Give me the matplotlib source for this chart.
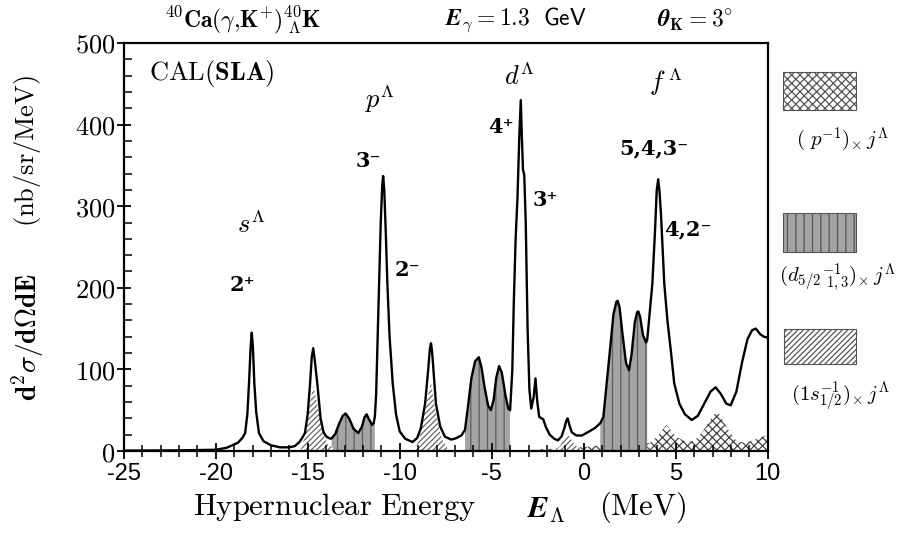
import numpy as np
import matplotlib
matplotlib.use('Agg')
import matplotlib.pyplot as plt
from matplotlib.patches import Rectangle
from matplotlib.ticker import MultipleLocator, FuncFormatter

plt.rcParams['mathtext.fontset'] = 'cm'
plt.rcParams['axes.unicode_minus'] = False
plt.rcParams['hatch.linewidth'] = 0.9

# total spectrum (E_Lambda in MeV, nb/sr/MeV)
energy = [-25.0, -22.0, -20.0, -19.4, -18.8, -18.55, -18.4, -18.28, -18.19, -18.1,
          -18.04, -17.98, -17.9, -17.8, -17.65, -17.4, -17.0, -16.5, -16.0, -15.7,
          -15.45, -15.3, -15.15, -15.0, -14.87, -14.78, -14.7, -14.62, -14.48, -14.3,
          -14.15, -14.06, -13.95, -13.75, -13.7, -13.5, -13.3, -13.1, -12.94, -12.75,
          -12.5, -12.25, -12.05, -11.92, -11.8, -11.65, -11.5, -11.42, -11.35, -11.28,
          -11.2, -11.12, -11.03, -10.95, -10.9, -10.84, -10.76, -10.67, -10.55, -10.38,
          -10.2, -10.0, -9.7, -9.3, -9.05, -8.85, -8.62, -8.45, -8.36, -8.3,
          -8.24, -8.15, -8.03, -7.8, -7.54, -7.2, -6.95, -6.83, -6.65, -6.45,
          -6.27, -6.1, -5.9, -5.7, -5.55, -5.4, -5.2, -5.05, -4.9, -4.75,
          -4.6, -4.45, -4.25, -4.1, -4.0, -3.88, -3.8, -3.7, -3.6, -3.5,
          -3.42, -3.36, -3.3, -3.23, -3.15, -3.05, -2.95, -2.85, -2.72, -2.62,
          -2.53, -2.42, -2.3, -2.2, -2.05, -1.85, -1.6, -1.4, -1.2, -1.05,
          -0.95, -0.87, -0.78, -0.65, -0.4, -0.1, 0.3, 0.6, 0.9, 1.07,
          1.25, 1.43, 1.62, 1.78, 1.85, 1.95, 2.1, 2.3, 2.46, 2.6,
          2.78, 2.9, 2.97, 3.07, 3.22, 3.39, 3.45, 3.55, 3.73, 3.87,
          3.97, 4.05, 4.12, 4.2, 4.38, 4.55, 4.73, 4.92, 5.2, 5.5,
          5.87, 6.2, 6.6, 6.9, 7.17, 7.45, 7.75, 7.99, 8.3, 8.6,
          8.9, 9.15, 9.35, 9.6, 9.8, 10.0]
sigma = [0.5, 0.8, 1.5, 4, 10, 16, 22, 45, 83, 128,
         145, 128, 83, 48, 22, 12, 7, 4.5, 4.5, 6,
         11, 16, 22, 45, 83, 115, 126, 112, 83, 40,
         24, 20, 17, 15, 15.5, 21, 33, 43, 46, 40,
         27, 22, 30, 41, 45, 38, 32, 34, 42, 70,
         140, 205, 280, 325, 337, 320, 270, 205, 140, 83,
         45, 24, 15, 11, 16, 28, 58, 100, 125, 132,
         122, 95, 58, 30, 17.5, 14, 15.5, 17, 19, 26,
         58, 90, 110, 115, 102, 80, 56, 50, 62, 90,
         104, 96, 68, 52, 50, 99, 181, 260, 310, 385,
         430, 385, 345, 338, 280, 150, 75, 52, 66, 89,
         62, 42, 40, 39, 29, 20, 15, 13, 18, 28,
         37, 40, 32, 23, 19, 19, 24, 28, 34, 42,
         83, 124, 168, 183, 184, 176, 145, 108, 99, 118,
         158, 170, 171, 164, 142, 133, 136, 160, 205, 267,
         320, 333, 318, 290, 205, 160, 124, 83, 58, 45,
         38, 43, 60, 73, 78, 70, 58, 56, 73, 108,
         137, 148, 150, 143, 140, 139]

# (1s1/2^-1) x j strength (diagonal hatch)
s_hole_e = [-15.4, -15.15, -14.9, -14.7, -14.5, -14.3, -14.1, -13.9, -13.6, -13.3,
            -9.2, -8.95, -8.7, -8.5, -8.3, -8.1, -7.9, -7.7, -7.45, -7.3,
            -1.6, -1.3, -1.1, -0.9, -0.7, -0.5, -0.2, 0.2]
s_hole_y = [0, 18, 55, 80, 60, 35, 18, 8, 3, 0,
            0, 15, 40, 65, 85, 55, 30, 15, 5, 0,
            0, 6, 14, 22, 15, 8, 3, 0]

# (p^-1) x j strength (cross hatch)
p_hole_e = [-3.5, -2.5, -1.5, 0.0, 1.0, 2.0, 3.0, 3.6, 4.0, 4.5,
            5.0, 5.5, 6.0, 6.5, 7.25, 7.8, 8.3, 8.8, 9.3, 10.0]
p_hole_y = [0, 2, 3, 5, 7, 8, 8, 10, 18, 32,
            18, 12, 12, 25, 50, 28, 12, 10, 14, 20]

# energy windows of the (d5/2^-1) x j strength (vertical stripes)
d_windows = [(-13.7, -11.35), (-6.45, -4.0), (0.9, 3.45)]

# spin-parity labels: text, x, y
jp_labels = [('2⁺', -18.55, 203), ('3⁻', -11.7, 355), ('2⁻', -9.6, 222),
             ('4⁺', -4.5, 397), ('3⁺', -2.1, 307), ('5,4,3⁻', 3.82, 371),
             ('4,2⁻', 5.67, 271)]

W, H = 903, 535
fig = plt.figure(figsize=(W / 100, H / 100), dpi=100)
ax = fig.add_axes([123.7 / W, 1 - 451 / H, (767.7 - 123.7) / W, (451 - 43) / H])

e = np.array(energy)
s = np.array(sigma)

stripe = dict(facecolor='#a4a4a4', edgecolor='#5e5e5e', hatch='||', linewidth=0)
diag = dict(facecolor='white', edgecolor='#666666', hatch='//////', linewidth=0)
cross = dict(facecolor='white', edgecolor='#444444', hatch='xxxx', linewidth=0)

ax.fill_between(p_hole_e, 0, p_hole_y, **cross)
for lo, hi in d_windows:
    ax.fill_between(e, 0, s, where=(e >= lo) & (e <= hi), **stripe)
ax.fill_between(s_hole_e, 0, s_hole_y, **diag)
ax.plot(e, s, color='black', lw=1.7)

ax.set_xlim(-25, 10)
ax.set_ylim(0, 500)
ax.xaxis.set_major_locator(MultipleLocator(5))
ax.xaxis.set_minor_locator(MultipleLocator(1))
ax.yaxis.set_major_locator(MultipleLocator(100))
ax.yaxis.set_minor_locator(MultipleLocator(20))
ax.yaxis.set_major_formatter(FuncFormatter(lambda v, p: r'$\mathrm{%d}$' % v))
for sp in ax.spines.values():
    sp.set_linewidth(1.6)
ax.tick_params(axis='x', which='major', direction='inout', length=12, width=1.3, pad=3)
ax.tick_params(axis='x', which='minor', direction='inout', length=8, width=1.1)
ax.tick_params(axis='y', which='major', direction='inout', length=10, width=1.3, pad=1,
               labelsize=19)
ax.tick_params(axis='y', which='minor', direction='in', length=6, width=1.1)
for lab in ax.get_xticklabels():
    lab.set_family('Liberation Sans')
    lab.set_fontsize(17)

# labels inside the frame
ax.text(-23.6, 463, r'$\mathrm{CAL(}\mathbf{SLA}\mathrm{)}$', fontsize=19, ha='left', va='center')
ax.text(-11.07, 432, r'$p^{\Lambda}$', fontsize=19, ha='center', va='center')
ax.text(-18.1, 277, r'$s^{\Lambda}$', fontsize=19, ha='center', va='center')
ax.text(-3.46, 458, r'$d^{\Lambda}$', fontsize=19, ha='center', va='center')
ax.text(4.47, 452, r'$f^{\,\Lambda}$', fontsize=19, ha='center', va='center')
for txt, x, y in jp_labels:
    ax.text(x, y, txt, fontsize=15, fontweight='bold', family='DejaVu Serif',
            ha='center', va='center')


def fpos(x, y):
    return x / W, 1 - y / H


# header
fig.text(*fpos(243, 20), r'$\mathbf{^{40}Ca(\gamma{,}K^{+})^{40}_{\ \Lambda}K}$', fontsize=17,
         ha='center', va='center')
fig.text(*fpos(516, 20), r'$\mathbfit{E}_{\gamma}\mathbf{=1.3}\ \ \mathsf{GeV}$', fontsize=17,
         ha='center', va='center')
fig.text(*fpos(695, 20), r'$\mathbfit{\theta}_{\mathbf{K}}\mathbf{=3^{\circ}}$', fontsize=17,
         ha='center', va='center')

# axis titles
fig.text(*fpos(28, 337), r'$\mathbf{d^{2}\sigma/d\Omega dE}$', fontsize=20, rotation=90,
         ha='center', va='center')
fig.text(*fpos(28, 151), r'$\mathrm{(nb/sr/MeV)}$', fontsize=19, rotation=90,
         ha='center', va='center')
fig.text(*fpos(335, 507), r'$\mathrm{Hypernuclear\ Energy}$', fontsize=22, ha='center', va='center')
fig.text(*fpos(546, 510), r'$\mathbfit{E}_{\mathbf{\Lambda}}$', fontsize=22, ha='center', va='center')
fig.text(*fpos(643, 507), r'$\mathrm{(MeV)}$', fontsize=22, ha='center', va='center')

# legend boxes on the right
boxes = [((783, 72, 856, 110), cross), ((783, 213, 856, 252), stripe), ((784, 329, 856, 364), diag)]
for (x0, y0, x1, y1), style in boxes:
    r = Rectangle((x0 / W, 1 - y1 / H), (x1 - x0) / W, (y1 - y0) / H, transform=fig.transFigure,
                  facecolor=style['facecolor'], edgecolor='#555555', hatch=style['hatch'], lw=0.8)
    fig.add_artist(r)
fig.text(*fpos(843, 140), r'$(\ p^{-1})_{\times}\,j^{\Lambda}$', fontsize=15, ha='center', va='center')
fig.text(*fpos(838, 278), r'$(d_{\mathbf{5/2}}{}^{-1}_{\ 1,3})_{\times}\,j^{\Lambda}$', fontsize=15,
         ha='center', va='center')
fig.text(*fpos(840, 397), r'$(1s_{\mathbf{1/2}}^{-1})_{\times}\,j^{\Lambda}$', fontsize=15,
         ha='center', va='center')

fig.savefig('out.png', dpi=100)
